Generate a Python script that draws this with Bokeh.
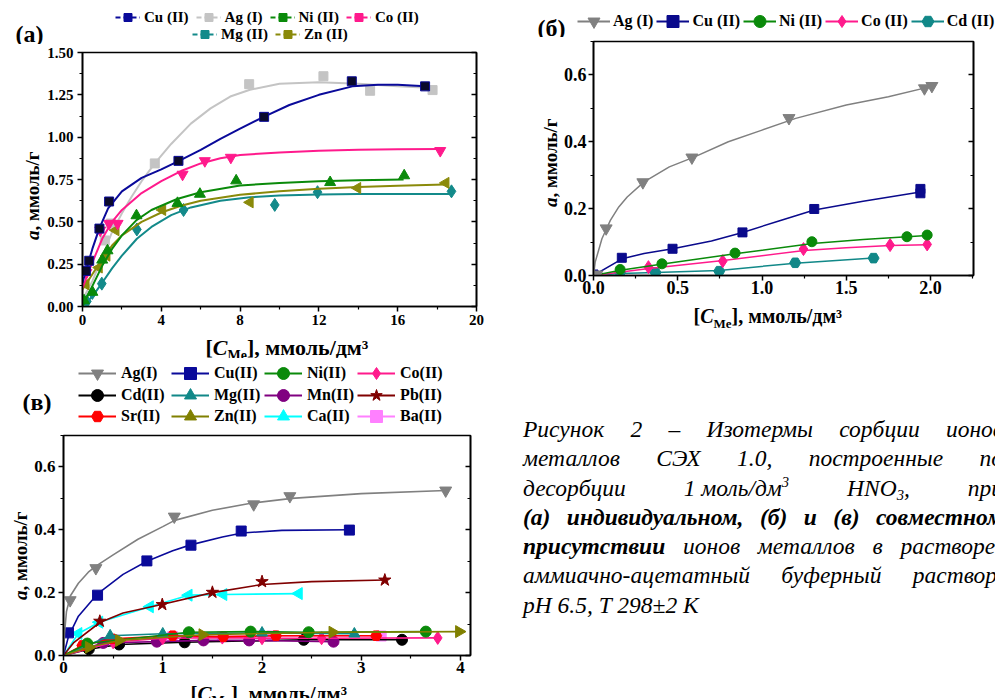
import math
from bokeh.plotting import figure
from bokeh.models import (Range1d, LinearAxis, FixedTicker, PrintfTickFormatter,
                          CustomJSTickFormatter, Legend, LegendItem, Label, Div, Title)
from bokeh.layouts import row, column
from bokeh.embed import file_html
from bokeh.resources import INLINE

SERIF = "'Liberation Serif'"

# ---------------- panel (a) data ----------------
a_x_ticks = [0, 4, 8, 12, 16, 20]
a_x_minor = [2, 6, 10, 14, 18]
a_y_ticks = [0.0, 0.25, 0.5, 0.75, 1.0, 1.25, 1.5]
a_y_minor = [0.125, 0.375, 0.625, 0.875, 1.125, 1.375]

a_cu_x = [0.17, 0.34, 0.86, 1.35, 4.87, 9.22, 13.67, 17.39]
a_cu_y = [0.21, 0.27, 0.46, 0.62, 0.86, 1.12, 1.33, 1.30]
a_cu_fx = [0, 0.2, 0.5, 0.85, 1.3, 2, 3, 4, 4.9, 6, 7, 8, 9.2, 10.5, 12, 13.7, 15, 16, 17.4]
a_cu_fy = [0.14, 0.22, 0.34, 0.46, 0.58, 0.68, 0.76, 0.81, 0.86, 0.925, 0.99, 1.05, 1.12, 1.19, 1.25, 1.30, 1.31, 1.31, 1.30]

a_ag_x = [1.13, 1.44, 3.67, 8.46, 12.23, 14.6, 17.77]
a_ag_y = [0.39, 0.49, 0.845, 1.313, 1.36, 1.274, 1.278]
a_ag_fx = [0, 0.5, 1, 1.5, 2, 2.5, 3, 3.67, 4.5, 5.5, 6.5, 7.5, 8.5, 10, 12, 14, 16, 17.8]
a_ag_fy = [0.04, 0.15, 0.29, 0.44, 0.55, 0.65, 0.74, 0.845, 0.96, 1.08, 1.17, 1.24, 1.28, 1.315, 1.325, 1.315, 1.30, 1.29]

a_co_x = [0.2, 0.9, 1.35, 1.78, 5.08, 6.21, 7.53, 18.16]
a_co_y = [0.2, 0.45, 0.49, 0.49, 0.78, 0.86, 0.88, 0.92]
a_co_fx = [0, 0.5, 1, 1.5, 2, 3, 4, 5, 6, 7, 8, 10, 12, 14, 16, 18.2]
a_co_fy = [0.11, 0.26, 0.4, 0.5, 0.57, 0.67, 0.74, 0.80, 0.845, 0.875, 0.895, 0.91, 0.92, 0.925, 0.928, 0.93]

a_ni_x = [0.08, 0.5, 1.0, 1.27, 2.74, 4.82, 5.96, 7.8, 12.57, 16.33]
a_ni_y = [0.035, 0.085, 0.275, 0.33, 0.537, 0.61, 0.664, 0.743, 0.733, 0.773]
a_ni_fx = [0, 0.5, 1, 1.5, 2, 2.74, 3.5, 4.8, 6, 8, 10, 12, 14, 16.3]
a_ni_fy = [0.0, 0.12, 0.24, 0.34, 0.42, 0.51, 0.57, 0.635, 0.675, 0.715, 0.73, 0.74, 0.745, 0.75]

a_zn_x = [0.17, 0.84, 1.23, 1.69, 4.06, 8.5, 13.96, 18.44]
a_zn_y = [0.13, 0.23, 0.30, 0.45, 0.57, 0.615, 0.70, 0.73]
a_zn_fx = [0, 0.5, 1, 1.5, 2, 3, 4, 5, 6, 8, 10, 12, 14, 16, 18.4]
a_zn_fy = [0.1, 0.19, 0.28, 0.36, 0.42, 0.5, 0.555, 0.595, 0.625, 0.66, 0.68, 0.695, 0.705, 0.713, 0.72]

a_mg_x = [0.22, 0.5, 0.98, 2.76, 5.13, 9.76, 11.93, 18.73]
a_mg_y = [0.03, 0.08, 0.135, 0.455, 0.57, 0.60, 0.675, 0.68]
a_mg_fx = [0, 0.5, 1, 1.5, 2, 2.76, 3.5, 4.5, 5.5, 7, 8.5, 10, 12, 14, 16, 18.7]
a_mg_fy = [0, 0.06, 0.14, 0.225, 0.3, 0.4, 0.47, 0.54, 0.585, 0.625, 0.645, 0.655, 0.662, 0.665, 0.665, 0.665]

# ---------------- panel (б) data ----------------
b_x_ticks = [0.0, 0.5, 1.0, 1.5, 2.0]
b_x_minor = [0.25, 0.75, 1.25, 1.75, 2.25]
b_y_ticks = [0.0, 0.2, 0.4, 0.6]
b_y_minor = [0.1, 0.3, 0.5, 0.7]

b_ag_x = [0.02, 0.075, 0.293, 0.584, 1.16, 1.964, 2.008]
b_ag_y = [0.003, 0.141, 0.279, 0.353, 0.471, 0.56, 0.567]
b_ag_fx = [0, 0.01, 0.03, 0.05, 0.1, 0.15, 0.2, 0.3, 0.45, 0.6, 0.8, 1.0, 1.2, 1.5, 1.75, 2.0]
b_ag_fy = [0, 0.04, 0.075, 0.11, 0.165, 0.205, 0.235, 0.28, 0.325, 0.355, 0.4, 0.435, 0.47, 0.51, 0.535, 0.565]

b_cu_x = [0.0, 0.168, 0.469, 0.884, 1.31, 1.94, 1.94]
b_cu_y = [0.003, 0.053, 0.08, 0.129, 0.199, 0.259, 0.246]
b_cu_fx = [0, 0.17, 0.3, 0.47, 0.7, 0.88, 1.1, 1.31, 1.6, 1.94]
b_cu_fy = [0, 0.05, 0.066, 0.08, 0.103, 0.128, 0.163, 0.196, 0.222, 0.25]

b_ni_x = [0.0, 0.158, 0.406, 0.84, 1.296, 1.86, 1.98]
b_ni_y = [0.0, 0.018, 0.035, 0.067, 0.101, 0.116, 0.121]
b_ni_fx = [0, 0.16, 0.4, 0.84, 1.3, 1.6, 1.86, 1.98]
b_ni_fy = [0, 0.016, 0.034, 0.065, 0.096, 0.108, 0.116, 0.12]

b_co_x = [0.0, 0.326, 0.767, 1.246, 1.76, 1.98]
b_co_y = [0.0, 0.025, 0.043, 0.079, 0.091, 0.093]
b_co_fx = [0, 0.33, 0.77, 1.25, 1.5, 1.76, 1.98]
b_co_fy = [0, 0.021, 0.045, 0.075, 0.083, 0.09, 0.092]

b_cd_x = [0.0, 0.158, 0.368, 0.746, 1.197, 1.662]
b_cd_y = [0.0, 0.009, 0.009, 0.013, 0.038, 0.052]
b_cd_fx = [0, 0.158, 0.368, 0.746, 1.197, 1.662]
b_cd_fy = [0, 0.006, 0.009, 0.015, 0.037, 0.052]

# ---------------- panel (в) data ----------------
c_x_ticks = [0, 1, 2, 3, 4]
c_x_minor = [0.5, 1.5, 2.5, 3.5]
c_y_ticks = [0.0, 0.2, 0.4, 0.6]
c_y_minor = [0.1, 0.3, 0.5, 0.7]

c_ag_x = [0.067, 0.326, 1.116, 1.916, 2.28, 3.85]
c_ag_y = [0.176, 0.278, 0.442, 0.481, 0.507, 0.525]
c_ag_fx = [0, 0.01, 0.03, 0.07, 0.15, 0.25, 0.33, 0.5, 0.75, 1.0, 1.12, 1.5, 1.9, 2.3, 3.0, 3.85]
c_ag_fy = [0, 0.07, 0.14, 0.19, 0.23, 0.265, 0.285, 0.32, 0.37, 0.41, 0.43, 0.462, 0.485, 0.5, 0.515, 0.525]

c_cu_x = [0.05, 0.343, 0.84, 1.284, 1.79, 2.88]
c_cu_y = [0.072, 0.192, 0.301, 0.351, 0.396, 0.399]
c_cu_fx = [0, 0.05, 0.15, 0.34, 0.6, 0.84, 1.1, 1.28, 1.6, 1.8, 2.2, 2.88]
c_cu_fy = [0, 0.06, 0.125, 0.195, 0.258, 0.3, 0.333, 0.352, 0.377, 0.39, 0.398, 0.4]

c_pb_x = [0.366, 0.995, 1.5, 2.0, 3.237]
c_pb_y = [0.109, 0.162, 0.201, 0.235, 0.24]
c_pb_fx = [0, 0.1, 0.366, 0.6, 1.0, 1.5, 2.0, 2.5, 3.24]
c_pb_fy = [0, 0.04, 0.105, 0.135, 0.163, 0.2, 0.226, 0.235, 0.24]

c_ca_x = [0.15, 0.36, 0.87, 1.26, 1.61, 2.37]
c_ca_y = [0.07, 0.106, 0.155, 0.192, 0.194, 0.197]

c_ni_x = [0.24, 1.263, 1.885, 2.47, 3.65]
c_ni_y = [0.038, 0.074, 0.076, 0.074, 0.076]
c_mg_x = [0.47, 1.0, 2.0, 2.93]
c_mg_y = [0.063, 0.069, 0.072, 0.069]
c_sr_x = [0.19, 0.49, 1.1, 1.61, 2.14, 3.15]
c_sr_y = [0.032, 0.053, 0.063, 0.06, 0.063, 0.063]
c_zn_x = [0.255, 0.56, 1.4, 2.71, 3.985]
c_zn_y = [0.026, 0.048, 0.066, 0.074, 0.076]
c_cd_x = [0.255, 0.56, 1.22, 2.42, 3.41]
c_cd_y = [0.02, 0.035, 0.042, 0.05, 0.05]
c_mn_x = [0.4, 0.94, 1.41, 1.87, 2.72]
c_mn_y = [0.04, 0.044, 0.048, 0.048, 0.044]
c_co_x = [0.5, 1.0, 1.6, 2.0, 2.6, 3.77]
c_co_y = [0.042, 0.055, 0.057, 0.055, 0.055, 0.056]
c_ba_x = [0.5, 1.1, 1.6, 2.1, 3.2]
c_ba_y = [0.05, 0.06, 0.06, 0.062, 0.062]

LEFT = math.pi / 2
RIGHT = -math.pi / 2


def core_fig(w, h, xr, yr, bl, br, bt, bb, xt, xm, yt, ym, xfmt, yfmt, fs, lstand, bstand):
    p = figure(width=w, height=h, x_range=Range1d(*xr), y_range=Range1d(*yr),
               output_backend="svg", toolbar_location=None,
               min_border_left=bl, min_border_right=br, min_border_top=bt, min_border_bottom=bb)
    p.xgrid.visible = False
    p.ygrid.visible = False
    p.outline_line_color = "black"
    p.outline_line_width = 1.6
    p.xaxis.ticker = FixedTicker(ticks=xt, minor_ticks=xm)
    p.yaxis.ticker = FixedTicker(ticks=yt, minor_ticks=ym)
    p.xaxis.formatter = PrintfTickFormatter(format=xfmt)
    p.yaxis.formatter = PrintfTickFormatter(format=yfmt)
    for ax in p.xaxis + p.yaxis:
        ax.axis_line_width = 1.6
        ax.major_tick_line_width = 1.5
        ax.minor_tick_line_width = 1.2
        ax.major_tick_out = 5
        ax.major_tick_in = 0
        ax.minor_tick_out = 3
        ax.minor_tick_in = 0
        ax.major_label_text_font = SERIF
        ax.major_label_text_font_style = "bold"
        ax.major_label_text_font_size = f"{fs}px"
        ax.major_label_text_color = "black"
    p.yaxis[0].major_label_standoff = lstand
    p.xaxis[0].major_label_standoff = bstand
    rax = LinearAxis(ticker=FixedTicker(ticks=yt, minor_ticks=ym),
                     formatter=CustomJSTickFormatter(code="return ''"),
                     axis_line_width=1.6, major_tick_line_width=1.5, minor_tick_line_width=1.2,
                     major_tick_out=0, major_tick_in=5, minor_tick_out=0, minor_tick_in=3,
                     major_label_standoff=0)
    p.add_layout(rax, "right")
    return p


def blank(w, h, left=0):
    f = figure(width=w, height=h, x_range=Range1d(0, max(w - left, 1)), y_range=Range1d(0, h),
               output_backend="svg", toolbar_location=None,
               x_axis_location=None, y_axis_location=None,
               min_border_left=left, min_border_right=0, min_border_top=0, min_border_bottom=0)
    for g in f.grid:
        g.visible = False
    f.outline_line_color = None
    return f


def slab(f, x, ytop, text, size, style="bold"):
    # ytop: distance from the strip's top edge
    f.add_layout(Label(x=x, y=f.height - ytop, text=text, text_font=SERIF,
                       text_font_size=f"{size}px", text_font_style=style, text_color="black",
                       text_align="left", text_baseline="alphabetic"))


def xlabel(f, x, ytop, s):
    slab(f, x, ytop, "[", s)
    x1 = x + 0.333 * s
    slab(f, x1, ytop, "C", s, "bold italic")
    x2 = x1 + 0.667 * s
    ss = round(s * 0.65)
    slab(f, x2, ytop + 0.38 * s, "Me", ss)
    x3 = x2 + 1.388 * ss
    slab(f, x3, ytop, "], ммоль/дм³", s)


def ytitle(w, h, text, style, size, align):
    # vertical text placed as a Title in the left side panel of a thin strip
    f = blank(w, h, left=w - 1)
    f.add_layout(Title(text=text, align=align, vertical_align="bottom", offset=0,
                       standoff=-2, text_font=SERIF, text_font_size=f"{size}px",
                       text_font_style=style, text_color="black"), "left")
    return f


def ylabel_col(w, h_up, h_low, size):
    return column(ytitle(w, h_up, ", ммоль/г", "bold", size, "left"),
                  ytitle(w, h_low, "a", "bold italic", size, "right"))


def add_legend(f, items, vx, vy, gw, gh, fs, standoff, spacing, label_width=20):
    lg = Legend(items=items, location=(vx, vy), orientation="horizontal",
                glyph_width=gw, glyph_height=gh, label_height=gh, label_width=label_width,
                label_standoff=standoff, spacing=spacing, padding=0, margin=0,
                label_text_font=SERIF, label_text_font_style="bold",
                label_text_font_size=f"{fs}px", label_text_color="black",
                border_line_color=None, background_fill_alpha=0)
    f.add_layout(lg)


# legend key renderers: one hidden sample placed outside the strip's visible range
KEY_X = [-100.0, -90.0]
KEY_Y = [-100.0, -100.0]


def key(f, color, marker, size, dash="solid", angle=0.0, fill=None):
    l = f.line(x=KEY_X, y=KEY_Y, line_color=color, line_width=2, line_dash=dash)
    m = f.scatter(x=KEY_X[:1], y=KEY_Y[:1], marker=marker, size=size,
                  fill_color=fill or color, line_color=color, angle=angle)
    return [l, m]


def series(p, fx, fy, px, py, color, marker, size, fill=None, lw=2.0, angle=0.0):
    p.line(fx, fy, line_color=color, line_width=lw)
    p.scatter(px, py, marker=marker, size=size, fill_color=fill or color,
              line_color=color, angle=angle)


def pts_line(p, xs, ys, color, marker, size, angle=0.0):
    p.line([0] + xs, [0] + ys, line_color=color, line_width=1.6)
    p.scatter(xs, ys, marker=marker, size=size, fill_color=color, line_color=color, angle=angle)


# ================= panel (a) =================
A_CU, A_AG, A_NI, A_CO, A_MG, A_ZN = "#0a0a9a", "#c4c4c4", "#0a8a0a", "#ff1a8c", "#138a8a", "#8a8a0a"
pa = core_fig(478, 288, (0, 20), (0, 1.5), 40, 44, 8, 26,
              a_x_ticks, a_x_minor, a_y_ticks, a_y_minor, "%d", "%.2f", 15, 4, 3)
series(pa, a_ag_fx, a_ag_fy, a_ag_x, a_ag_y, A_AG, "square", 9)
series(pa, a_mg_fx, a_mg_fy, a_mg_x, a_mg_y, A_MG, "diamond", 13)
series(pa, a_zn_fx, a_zn_fy, a_zn_x, a_zn_y, A_ZN, "triangle", 11, angle=LEFT)
series(pa, a_ni_fx, a_ni_fy, a_ni_x, a_ni_y, A_NI, "triangle", 11)
series(pa, a_co_fx, a_co_fy, a_co_x, a_co_y, A_CO, "inverted_triangle", 11)
series(pa, a_cu_fx, a_cu_fy, a_cu_x, a_cu_y, A_CU, "square", 9, fill="#0a0a2a")

a_top = blank(520, 44)
slab(a_top, 15, 33, "(a)", 24)
add_legend(a_top, [LegendItem(label="Cu (II)", renderers=key(a_top, A_CU, "square", 9, "5 3")),
                   LegendItem(label="Ag (I)", renderers=key(a_top, A_AG, "square", 9, "5 3")),
                   LegendItem(label="Ni (II)", renderers=key(a_top, A_NI, "square", 9, "5 3")),
                   LegendItem(label="Co (II)", renderers=key(a_top, A_CO, "square", 9, "5 3"))],
           115, 17, 25, 20, 15, 4, 7)
add_legend(a_top, [LegendItem(label="Mg (II)", renderers=key(a_top, A_MG, "square", 9, "5 3")),
                   LegendItem(label="Zn (II)", renderers=key(a_top, A_ZN, "square", 9, "5 3"))],
           192, 0, 25, 20, 15, 4, 7)
a_bot = blank(520, 26)
xlabel(a_bot, 205, 15, 22)
panel_a = column(a_top, row(ylabel_col(42, 186, 102, 19), pa), a_bot)

# ================= panel (б) =================
B_AG, B_CU, B_NI, B_CO, B_CD = "#808080", "#0a0a8c", "#0a8a0a", "#ff1a8c", "#118888"
pb = core_fig(435, 263, (0, 2.255), (0, 0.7), 33, 22, 4, 25,
              b_x_ticks, b_x_minor, b_y_ticks, b_y_minor, "%.1f", "%.1f", 18, 2, 0)
series(pb, b_cd_fx, b_cd_fy, b_cd_x, b_cd_y, B_CD, "hex", 11, lw=1.5)
series(pb, b_co_fx, b_co_fy, b_co_x, b_co_y, B_CO, "diamond", 13, lw=1.5)
series(pb, b_ni_fx, b_ni_fy, b_ni_x, b_ni_y, B_NI, "circle", 10, lw=1.5)
series(pb, b_cu_fx, b_cu_fy, b_cu_x, b_cu_y, B_CU, "square", 9, lw=1.5)
series(pb, b_ag_fx, b_ag_fy, b_ag_x, b_ag_y, B_AG, "inverted_triangle", 12, lw=1.5)

b_top = blank(475, 37)
slab(b_top, 17, 27, "(б)", 24)
add_legend(b_top, [LegendItem(label="Ag (I)", renderers=key(b_top, B_AG, "inverted_triangle", 12)),
                   LegendItem(label="Cu (II)", renderers=key(b_top, B_CU, "square", 9)),
                   LegendItem(label="Ni (II)", renderers=key(b_top, B_NI, "circle", 10)),
                   LegendItem(label="Co (II)", renderers=key(b_top, B_CO, "diamond", 12)),
                   LegendItem(label="Cd (II)", renderers=key(b_top, B_CD, "hex", 11))],
           57, 1, 33, 30, 16, 3, 3)
b_bot = blank(475, 58)
xlabel(b_bot, 173, 15, 20)
panel_b = column(b_top, row(ylabel_col(40, 160, 103, 19), pb), b_bot)

# ================= panel (в) =================
C_AG, C_CU, C_NI, C_CO = "#808080", "#0a0a9a", "#0a8a0a", "#ff1a8c"
C_CD, C_MG, C_MN, C_PB = "#000000", "#118888", "#800080", "#800000"
C_SR, C_ZN, C_CA, C_BA = "#ff0000", "#808000", "#00ffff", "#ff80ff"
pc = core_fig(480, 249, (0, 4.1), (0, 0.7), 33, 40, 4, 25,
              c_x_ticks, c_x_minor, c_y_ticks, c_y_minor, "%d", "%.1f", 17, 3, 1)
pts_line(pc, c_ba_x, c_ba_y, C_BA, "square", 10)
pts_line(pc, c_cd_x, c_cd_y, C_CD, "circle", 11)
pts_line(pc, c_mn_x, c_mn_y, C_MN, "circle", 11)
pts_line(pc, c_co_x, c_co_y, C_CO, "diamond", 13)
pts_line(pc, c_sr_x, c_sr_y, C_SR, "hex", 11)
pts_line(pc, c_mg_x, c_mg_y, C_MG, "triangle", 11)
pts_line(pc, c_ni_x, c_ni_y, C_NI, "circle", 11)
pts_line(pc, c_zn_x, c_zn_y, C_ZN, "triangle", 12, angle=RIGHT)
pts_line(pc, c_ca_x, c_ca_y, C_CA, "triangle", 12, angle=LEFT)
series(pc, c_pb_fx, c_pb_fy, c_pb_x, c_pb_y, C_PB, "star", 13, lw=1.6)
series(pc, c_cu_fx, c_cu_fy, c_cu_x, c_cu_y, C_CU, "square", 10, lw=1.6)
series(pc, c_ag_fx, c_ag_fy, c_ag_x, c_ag_y, C_AG, "inverted_triangle", 12, lw=1.6)

c_top = blank(510, 73)
slab(c_top, 22, 43, "(в)", 24)
rows_c = [
    [("Ag(I)", C_AG, "inverted_triangle", 0.0), ("Cu(II)", C_CU, "square", 0.0),
     ("Ni(II)", C_NI, "circle", 0.0), ("Co(II)", C_CO, "diamond", 0.0)],
    [("Cd(II)", C_CD, "circle", 0.0), ("Mg(II)", C_MG, "triangle", 0.0),
     ("Mn(II)", C_MN, "circle", 0.0), ("Pb(II)", C_PB, "star", 0.0)],
    [("Sr(II)", C_SR, "hex", 0.0), ("Zn(II)", C_ZN, "triangle", RIGHT),
     ("Ca(II)", C_CA, "triangle", LEFT), ("Ba(II)", C_BA, "square", 0.0)],
]
for vy, items in zip([43, 21.5, 0], rows_c):
    add_legend(c_top, [LegendItem(label=t, renderers=key(c_top, col, mk, 12, angle=an))
                       for t, col, mk, an in items],
               78, vy, 38, 30, 16, 5, 3, label_width=47)
c_bot = blank(510, 18)
xlabel(c_bot, 190, 13, 21)
panel_c = column(c_top, row(ylabel_col(30, 159, 90, 19), pc), c_bot)

# ================= caption =================
cap_lines = [
    "Рисунок 2 – Изотермы сорбции ионов",
    "металлов СЭХ 1.0, построенные по",
    "десорбции <span style='display:inline-block'>1 моль/дм<sup style='font-size:62%;vertical-align:0.6em;line-height:0'>3</sup></span> "
    "HNO<sub style='font-size:62%;vertical-align:-0.25em;line-height:0'>3</sub>, при",
    "<b>(а) индивидуальном, (б) и (в) совместном</b>",
    "<b>присутствии</b> ионов металлов в растворе:",
    "аммиачно-ацетатный буферный раствор,",
]
cap_wrap = [False, False, False, True, False, False]
cap_last = "pH 6.5, T 298±2 K"
inner = "".join(
    "<div style='text-align:justify;text-align-last:justify;"
    + ("white-space:nowrap;" if nw else "") + f"'>{t}</div>"
    for t, nw in zip(cap_lines, cap_wrap))
inner += f"<div style='text-align:left;'>{cap_last}</div>"
html = ("<div style='width:485px;height:340px;overflow:hidden;position:relative;background:white;'>"
        "<div style=\"position:absolute;left:8px;top:52px;width:480px;font-family:'Liberation Serif';"
        "font-style:italic;font-size:23.5px;line-height:29.3px;color:#000;\">"
        + inner + "</div></div>")
cap = Div(text=html, width=485, height=340)

layout = column(row(panel_a, panel_b), row(panel_c, cap))
open("out.html", "w").write(file_html(layout, INLINE))
